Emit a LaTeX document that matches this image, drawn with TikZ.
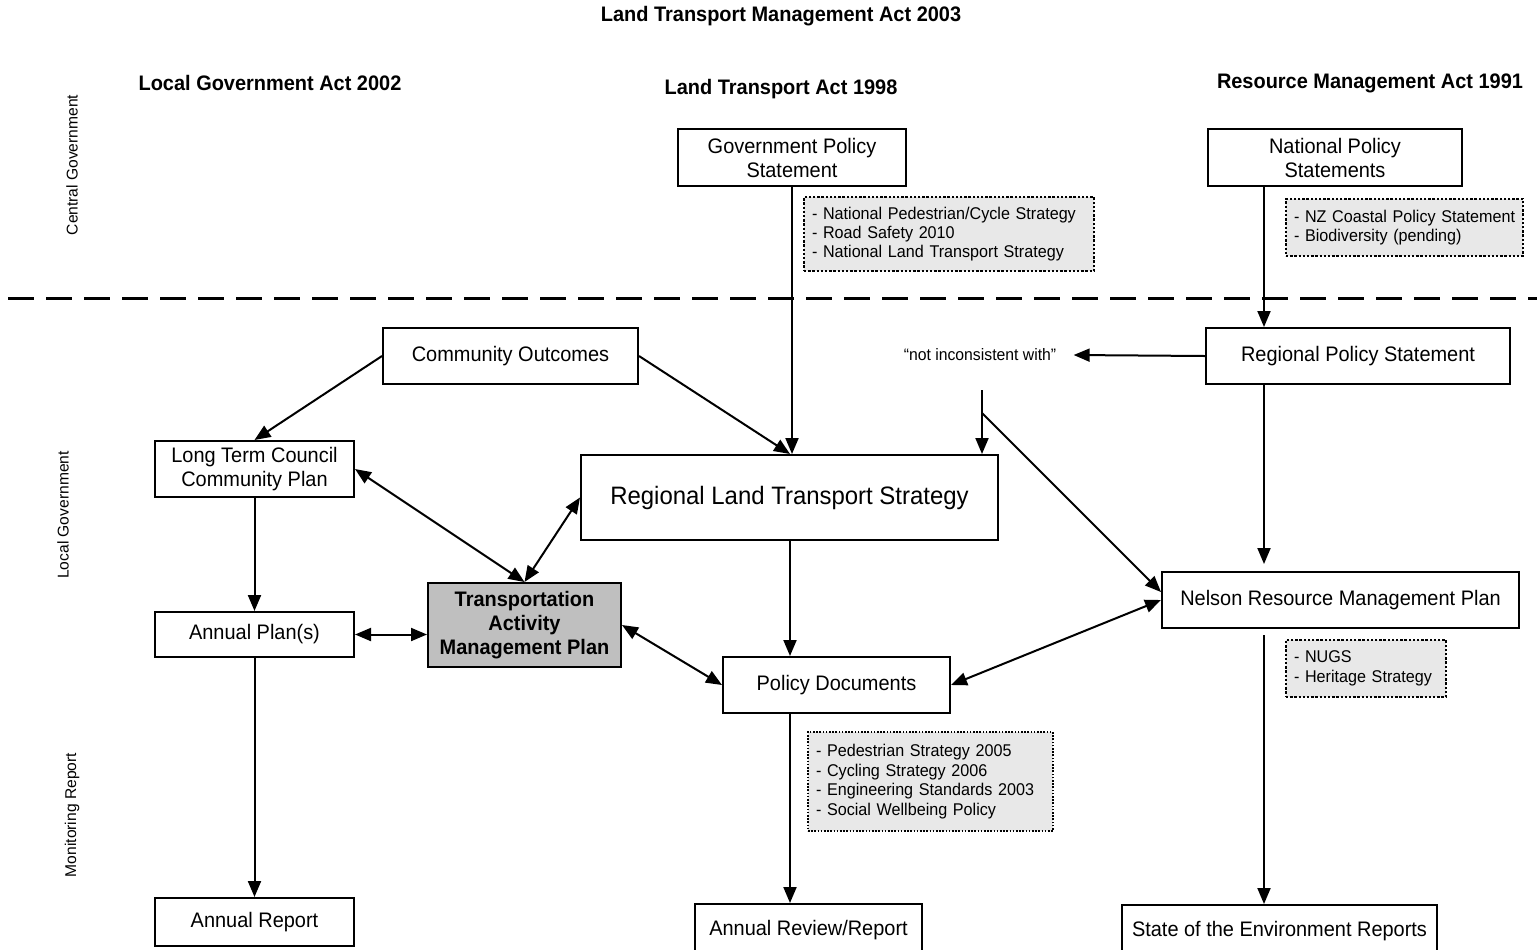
\documentclass[tikz,border=0pt]{standalone}
\usepackage{fontspec}
\setmainfont[FakeStretch=0.95]{Liberation Sans}
\newfontfamily\sidefont{Liberation Sans}
\usetikzlibrary{arrows.meta,calc}
\begin{document}
\begin{tikzpicture}[x=0.5pt,y=-0.5pt,
  box/.style={draw,line width=1pt,fill=white,align=center,inner sep=0pt,font=\fontsize{10.5}{12}\selectfont},
  note/.style={draw,line width=1pt,dash pattern=on 1.2pt off 0.9pt,fill=gray!18,align=left,inner xsep=4pt,inner ysep=0pt,font=\fontsize{8.5}{9.7}\selectfont},
  hdr/.style={font=\bfseries\fontsize{10.5}{12}\selectfont},
  side/.style={rotate=90,font=\sidefont\fontsize{7.8}{9}\selectfont},
  tip/.tip={Triangle[length=8pt,width=6.5pt]},
  arr/.style={line width=1pt,-tip},
  biarr/.style={line width=1pt,tip-tip},
]
\clip (0,0) rectangle (1537,949);
\fill[white] (0,0) rectangle (1537,949);

% headers
\node[hdr] (title) at (781,16) {Land Transport Management Act 2003};
\node[hdr] (lga) at (270,83) {Local Government Act 2002};
\node[hdr] (lta) at (781,89) {Land Transport Act 1998};
\node[hdr] (rma) at (1370,83) {Resource Management Act 1991};

% side labels
\node[side] (sc) at (72,165) {Central Government};
\node[side] (sl) at (63,515) {Local Government};
\node[side] (sm) at (72,815) {Monitoring Report};

% dashed divider
\draw[line width=1.5pt,dash pattern=on 13pt off 6pt] (8,298) -- (1537,298);

% boxes
\node[box,minimum width=114pt,minimum height=28.5pt] (gps) at (792,157.5) {Government Policy\\Statement};
\node[box,minimum width=127pt,minimum height=28.5pt] (nps) at (1335,157.5) {National Policy\\Statements};
\node[note,text width=137pt,minimum height=37pt] (n1) at (949,234) {\mbox{- National Pedestrian/Cycle Strategy}\\- Road Safety 2010\\\mbox{- National Land Transport Strategy}};
\node[note,text width=110.5pt,minimum height=28.5pt] (n2) at (1404.5,227.5) {\mbox{- NZ Coastal Policy Statement}\\\mbox{- Biodiversity (pending)}};
\node[box,minimum width=127.5pt,minimum height=28pt] (co) at (510.5,356) {Community Outcomes};
\node[box,minimum width=152pt,minimum height=28pt] (rps) at (1358,356) {Regional Policy Statement};
\node[font=\fontsize{8.3}{10}\selectfont,inner sep=0pt] (nic) at (980,355) {“not inconsistent with”};
\node[box,minimum width=99.5pt,minimum height=28pt] (ltccp) at (254.5,469) {Long Term Council\\Community Plan};
\node[box,minimum width=208.5pt,minimum height=42.5pt,font=\fontsize{12.6}{15}\selectfont] (rlts) at (789.5,497.5) {Regional Land Transport Strategy};
\node[box,minimum width=96.5pt,minimum height=42pt,fill=gray!50,font=\bfseries\fontsize{10.5}{12}\selectfont] (tamp) at (524.5,625) {Transportation\\Activity\\Management Plan};
\node[box,minimum width=99.5pt,minimum height=22.5pt] (ap) at (254.5,634.5) {Annual Plan(s)};
\node[box,minimum width=178.5pt,minimum height=28pt] (nrmp) at (1340.5,600) {Nelson Resource Management Plan};
\node[box,minimum width=113.5pt,minimum height=28pt] (pd) at (836.5,685) {Policy Documents};
\node[note,text width=72pt,minimum height=28.5pt] (n3) at (1366,668.5) {- NUGS\\\mbox{- Heritage Strategy}};
\node[note,line width=0.6pt,dash pattern=on 0.8pt off 0.8pt,text width=114.5pt,minimum height=49.5pt] (n4) at (930.5,781.5) {\mbox{- Pedestrian Strategy 2005}\\\mbox{- Cycling Strategy 2006}\\\mbox{- Engineering Standards 2003}\\\mbox{- Social Wellbeing Policy}};
\node[box,minimum width=99.5pt,minimum height=24pt] (ar) at (254.5,922) {Annual Report};
\node[box,minimum width=113.5pt,minimum height=26pt] (arr) at (808.5,930) {Annual Review/Report};
\node[box,minimum width=157.5pt,minimum height=26pt] (soe) at (1279.5,931) {State of the Environment Reports};

% helper coordinates
\coordinate (axR) at (1264,0);
\coordinate (axM) at (790,0);
\coordinate (nicTop) at (982,390);
\coordinate (nicBr) at (982,413);

% connectors
\draw[arr] (gps.south) -- (gps.south |- rlts.north);
\draw[arr] (axR |- nps.south) -- (axR |- rps.north);
\draw[arr] (co.west) -- (ltccp.north);
\draw[arr] (co.east) -- (axM |- rlts.north);
\draw[arr] (rps.west) -- ($(nic.east)+(17,0)$);
\draw[arr] (nicTop) -- (nicTop |- rlts.north);
\draw[arr] (nicBr) -- ($(nrmp.west)+(0,-8)$);
\draw[arr,shorten >=3.5pt] (axR |- rps.south) -- (axR |- nrmp.north);
\draw[biarr] (ltccp.east) -- (tamp.north);
\draw[biarr] (rlts.west) -- (tamp.north);
\draw[arr] (ltccp.south) -- (ap.north);
\draw[biarr] (ap.east) -- (ap.east -| tamp.west);
\draw[biarr] (tamp.east) -- (pd.west);
\draw[arr] (axM |- rlts.south) -- (axM |- pd.north);
\draw[biarr] (pd.east) -- (nrmp.west);
\draw[arr] (ap.south) -- (ar.north);
\draw[arr] (axM |- pd.south) -- (axM |- arr.north);
\draw[arr] ($(axR |- nrmp.south)+(0,6)$) -- (axR |- soe.north);
\end{tikzpicture}
\end{document}
